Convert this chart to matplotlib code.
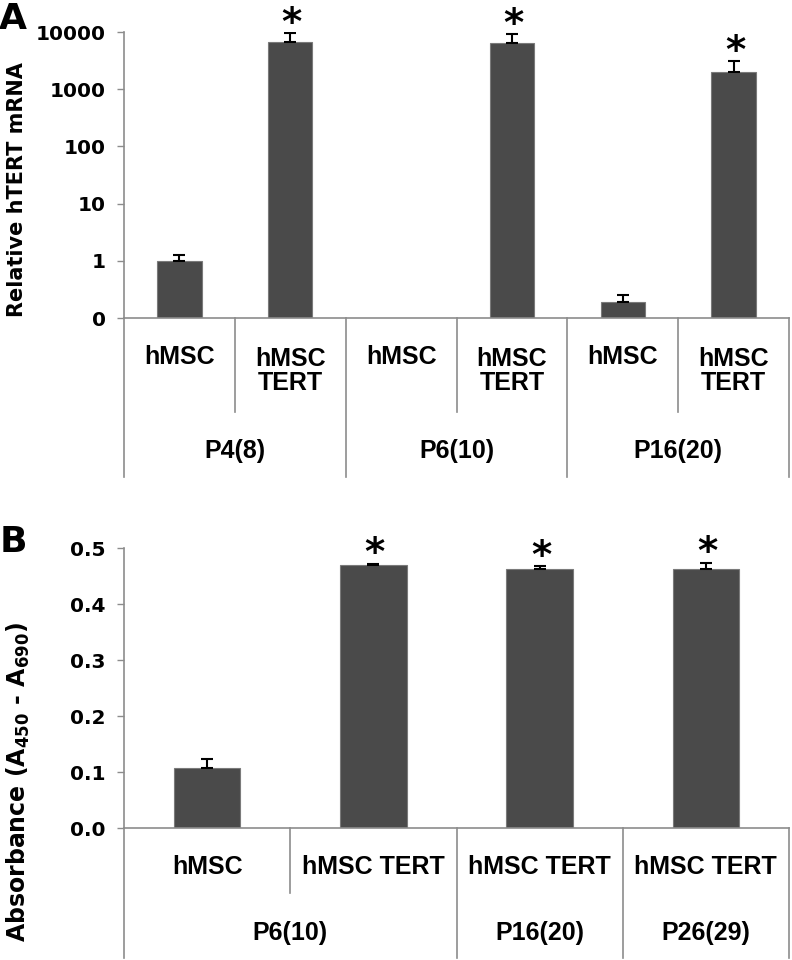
import numpy as np
import matplotlib.pyplot as plt

plt.rcParams['font.family'] = ['DejaVu Sans']
plt.rcParams['font.weight'] = 'bold'
plt.rcParams['mathtext.default'] = 'bf'

# panel A - relative hTERT mRNA, log scale
a_cells = ['hMSC', 'hMSC\nTERT', 'hMSC', 'hMSC\nTERT', 'hMSC', 'hMSC\nTERT']
a_groups = ['P4(8)', 'P6(10)', 'P16(20)']
a_group_size = [2, 2, 2]
a_vals = [1.0, 6650, 0, 6400, 0.19, 1990]
a_err = [0.27, 2950, 0, 2800, 0.06, 1100]
a_sig = [False, True, False, True, False, True]
a_ticks = [0.1, 1, 10, 100, 1000, 10000]
a_ticklabels = ['0', '1', '10', '100', '1000', '10000']

# panel B - absorbance
b_cells = ['hMSC', 'hMSC TERT', 'hMSC TERT', 'hMSC TERT']
b_groups = ['P6(10)', 'P16(20)', 'P26(29)']
b_group_size = [2, 1, 1]
b_vals = [0.107, 0.470, 0.463, 0.463]
b_err = [0.016, 0.002, 0.005, 0.011]
b_sig = [False, True, True, True]
b_ticks = [0.0, 0.1, 0.2, 0.3, 0.4, 0.5]
b_ticklabels = ['0.0', '0.1', '0.2', '0.3', '0.4', '0.5']

bar_col = '#4a4a4a'
line_col = '#8c8c8c'
cat_font = ['Liberation Sans', 'DejaVu Sans']


def draw_panel(ax, cells, groups, group_size, vals, err, sig, ticks, ticklabels,
               y_cell, y_inner, y_group, y_outer):
    n = len(cells)
    x = np.arange(n)
    v = np.array(vals, dtype=float)
    v = np.where(v > 0, v, np.nan)
    e = np.array(err, dtype=float)
    ax.bar(x, v, width=0.4, color=bar_col, edgecolor='#7a7a7a', linewidth=0.8, zorder=2)
    ax.errorbar(x, v, yerr=[np.zeros(n), e], fmt='none', ecolor='black',
                elinewidth=1.5, capsize=4, capthick=1.5, zorder=3)
    for i in range(n):
        if sig[i]:
            ax.annotate('*', (x[i], v[i] + e[i]), xytext=(1, -7), textcoords='offset points',
                        ha='center', va='bottom', fontsize=28, fontweight='bold')
    ax.set_xlim(-0.5, n - 0.5)
    ax.set_yticks(ticks)
    ax.set_yticklabels(ticklabels)
    ax.tick_params(axis='y', length=5, width=1, color=line_col, labelsize=14.5, pad=8)
    ax.tick_params(axis='x', length=0, labelbottom=False)
    ax.minorticks_off()
    for s in ['top', 'right']:
        ax.spines[s].set_visible(False)
    for s in ['left', 'bottom']:
        ax.spines[s].set_color(line_col)
        ax.spines[s].set_linewidth(1.2)

    # category separators below the axis
    tr = ax.get_xaxis_transform()
    bounds = np.cumsum([0] + group_size)
    for b in range(n + 1):
        yb = y_outer if b in bounds else y_inner
        ax.plot([b - 0.5, b - 0.5], [0, yb], color=line_col, lw=1.2,
                transform=tr, clip_on=False)
    for i, lab in enumerate(cells):
        ax.text(x[i], y_cell, lab, transform=tr, ha='center', va='center',
                fontsize=18, fontweight='bold', family=cat_font, linespacing=1.0)
    for g, lab in enumerate(groups):
        xc = (bounds[g] + bounds[g + 1] - 1) / 2
        ax.text(xc, y_group, lab, transform=tr, ha='center', va='center',
                fontsize=18, fontweight='bold', family=cat_font)


fig = plt.figure(figsize=(7.92, 9.6), dpi=100)

axA = fig.add_axes([124 / 792, 1 - 318 / 960, 665 / 792, 286 / 960])
axA.set_yscale('log')
axA.set_ylim(0.1, 10000)
draw_panel(axA, a_cells, a_groups, a_group_size, a_vals, a_err, a_sig,
           a_ticks, a_ticklabels, -0.185, -0.329, -0.465, -0.556)
# single-line labels sit higher than the two-line ones
for t in axA.texts:
    if t.get_text() == 'hMSC':
        t.set_y(-0.136)

axB = fig.add_axes([124 / 792, 1 - 828 / 960, 665 / 792, 280 / 960])
axB.set_ylim(0, 0.5)
draw_panel(axB, b_cells, b_groups, b_group_size, b_vals, b_err, b_sig,
           b_ticks, b_ticklabels, -0.139, -0.232, -0.375, -0.464)

fig.text(17 / 792, 1 - 190 / 960, 'Relative hTERT mRNA', rotation=90,
         ha='center', va='center', fontsize=15, fontweight='bold')
fig.text(18 / 792, 1 - 782 / 960, r'Absorbance (A$_{450}$ - A$_{690}$)', rotation=90,
         ha='center', va='center', fontsize=17, fontweight='bold')
fig.text(13 / 792, 1 - 19 / 960, 'A', ha='center', va='center', fontsize=26, fontweight='bold')
fig.text(13 / 792, 1 - 542 / 960, 'B', ha='center', va='center', fontsize=26, fontweight='bold')

fig.savefig('out.png', dpi=100, facecolor='white')
